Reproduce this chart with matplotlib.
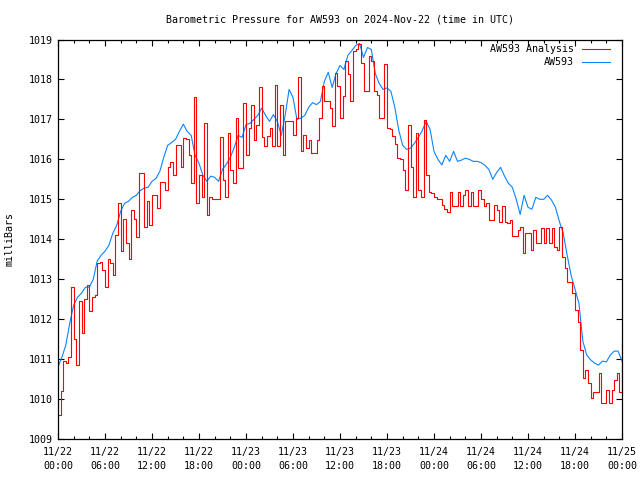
import numpy as np
import matplotlib
matplotlib.use("Agg")
import matplotlib.pyplot as plt
from matplotlib.lines import Line2D

# ---- data -------------------------------------------------------------
title = "Barometric Pressure for AW593 on 2024-Nov-22 (time in UTC)"
ylabel = "milliBars"
series_names = ["AW593 Analysis", "AW593"]

# AW593 (blue) every 30 minutes from 11/22 00:00
aw593 = [
    1010.8, 1011.05, 1011.35, 1011.9, 1012.35, 1012.55, 1012.65, 1012.8, 1012.8, 1013.0,
    1013.45, 1013.6, 1013.7, 1013.85, 1014.15, 1014.35, 1014.7, 1014.9, 1014.95, 1015.05,
    1015.1, 1015.22, 1015.28, 1015.3, 1015.45, 1015.52, 1015.7, 1016.05, 1016.35, 1016.42,
    1016.5, 1016.7, 1016.88, 1016.7, 1016.6, 1016.1, 1015.9, 1015.6, 1015.45, 1015.58,
    1015.55, 1015.45, 1015.75, 1015.88, 1016.05, 1016.3, 1016.6, 1016.55, 1016.87, 1016.9,
    1017.0, 1017.1, 1017.28, 1017.1, 1016.95, 1017.12, 1016.95, 1016.6, 1017.1, 1017.75,
    1017.55, 1017.0, 1017.03, 1017.1, 1017.3, 1017.42, 1017.37, 1017.45, 1017.95, 1018.18,
    1017.8, 1018.15, 1018.35, 1018.25, 1018.6, 1018.72, 1018.85, 1018.9, 1018.55, 1018.8,
    1018.75, 1018.15, 1017.9, 1017.75, 1017.79, 1017.7, 1017.3, 1016.73, 1016.35, 1016.25,
    1016.28, 1016.4, 1016.55, 1016.72, 1016.95, 1016.75, 1016.2, 1016.0, 1015.86, 1016.1,
    1015.95, 1016.2, 1015.95, 1015.98, 1016.03, 1016.0, 1015.95, 1015.95, 1015.92, 1015.85,
    1015.75, 1015.5, 1015.67, 1015.8, 1015.58, 1015.4, 1015.3, 1015.0, 1014.62, 1015.1,
    1014.8, 1014.75, 1015.05, 1015.0, 1015.0, 1015.1, 1014.98, 1014.8, 1014.45, 1014.15,
    1013.6, 1013.1, 1012.75, 1012.4, 1011.45, 1011.1, 1010.98, 1010.9, 1010.85, 1010.95,
    1010.93, 1011.1, 1011.2, 1011.2, 1010.95,
]

# AW593 Analysis (red) every 20 minutes from 11/22 00:00
aw593_analysis = [
    1009.6, 1010.2, 1010.95, 1010.9, 1011.05, 1012.8, 1011.5, 1010.85, 1012.45, 1011.65,
    1012.5, 1012.85, 1012.2, 1012.55, 1012.6, 1013.4, 1013.44, 1013.23, 1012.8, 1013.5,
    1013.4, 1013.1, 1014.1, 1014.9, 1013.7, 1014.5, 1013.9, 1013.5, 1014.73, 1014.5,
    1014.06, 1015.65, 1015.65, 1014.3, 1014.95, 1014.36, 1015.1, 1015.1, 1014.77, 1015.44,
    1015.44, 1015.23, 1015.8, 1015.94, 1015.6, 1016.36, 1016.36, 1015.8, 1016.53, 1016.5,
    1016.1, 1015.4, 1017.55, 1014.9, 1015.6, 1015.07, 1016.9, 1014.6, 1015.07, 1015.02,
    1015.02, 1015.02, 1016.57, 1015.48, 1015.07, 1016.65, 1015.73, 1015.4, 1017.03, 1015.78,
    1015.78, 1017.4, 1016.11, 1016.78, 1017.36, 1016.48, 1016.86, 1017.82, 1016.57, 1016.33,
    1016.58, 1016.78, 1016.33, 1017.87, 1016.33, 1017.35, 1016.1, 1016.95, 1016.95, 1016.95,
    1016.62, 1017.03, 1018.05, 1016.2, 1016.62, 1016.28, 1016.49, 1016.16, 1016.16, 1016.49,
    1017.03, 1017.83, 1017.47, 1017.47, 1017.28, 1016.83, 1018.17, 1017.84, 1017.04, 1017.59,
    1018.46, 1018.13, 1017.46, 1018.71, 1018.75, 1018.88, 1018.42, 1017.71, 1017.71, 1018.59,
    1018.46, 1017.71, 1017.6, 1017.04, 1017.04, 1018.38, 1016.79, 1016.77, 1016.58, 1016.38,
    1016.03, 1016.0, 1015.73, 1015.23, 1016.86, 1015.82, 1015.07, 1016.65, 1015.23, 1015.07,
    1016.98, 1015.61, 1015.19, 1015.15, 1015.07, 1015.02, 1015.02, 1014.85, 1014.75, 1014.68,
    1015.19, 1014.82, 1014.82, 1015.19, 1014.82, 1015.11, 1015.23, 1014.82, 1015.19, 1014.82,
    1014.82, 1015.23, 1015.02, 1014.82, 1014.9, 1014.48, 1014.48, 1014.86, 1014.73, 1014.44,
    1014.82, 1014.44, 1014.4, 1014.48, 1014.07, 1014.07, 1014.23, 1014.31, 1013.65, 1014.15,
    1014.15, 1013.73, 1014.23, 1013.9, 1013.9, 1014.27, 1013.9, 1014.27, 1013.9, 1014.27,
    1013.81, 1013.73, 1014.31, 1013.56, 1013.27, 1012.94, 1012.94, 1012.65, 1012.23, 1011.94,
    1011.23, 1010.52, 1010.73, 1010.39, 1010.02, 1010.18, 1010.18, 1010.64, 1009.89, 1009.89,
    1010.23, 1009.89, 1010.23, 1010.48, 1010.64, 1010.18, 1011.4,
]

xtick_labels = ["11/22\n00:00", "11/22\n06:00", "11/22\n12:00", "11/22\n18:00",
                "11/23\n00:00", "11/23\n06:00", "11/23\n12:00", "11/23\n18:00",
                "11/24\n00:00", "11/24\n06:00", "11/24\n12:00", "11/24\n18:00",
                "11/25\n00:00"]
ytick_values = [1009, 1010, 1011, 1012, 1013, 1014, 1015, 1016, 1017, 1018, 1019]

# ---- figure -------------------------------------------------------------
plt.rcParams['font.family'] = ['DejaVu Sans Mono']
FS = 7.2

fig = plt.figure(figsize=(6.4, 4.8), dpi=100)
ax = fig.add_axes([58 / 640, 41 / 480, 564 / 640, 399.5 / 480])

t_blue = np.arange(len(aw593)) * 0.5
t_red = np.arange(len(aw593_analysis)) * (20 / 60)

red = "#ff0000"
blue = "#0a84ff"
ax.plot(t_blue, aw593, color=blue, lw=0.8)
ax.plot(t_red, aw593_analysis, color=red, lw=0.8, drawstyle="steps-post")

ax.set_xlim(0, 72)
ax.set_ylim(1009, 1019)
ax.set_xticks(np.arange(0, 73, 6))
ax.set_xticks(np.arange(0, 73, 2), minor=True)
ax.set_xticklabels(xtick_labels, fontsize=FS, linespacing=1.4)
ax.set_yticks(ytick_values)
ax.set_yticklabels([str(v) for v in ytick_values], fontsize=FS)

ax.tick_params(which="both", direction="in", top=True, right=True, colors="black")
ax.tick_params(which="major", length=4.5, width=0.8)
ax.tick_params(which="minor", length=2.5, width=0.8)
ax.tick_params(axis="x", which="major", pad=6)
ax.tick_params(axis="y", which="major", pad=4)
for s in ax.spines.values():
    s.set_linewidth(0.9)

ax.set_title(title, fontsize=FS, pad=12)
ax.set_ylabel(ylabel, fontsize=FS)
ax.yaxis.set_label_coords(-0.077, 0.5)

# legend (gnuplot style, right-aligned text, sample line on the right)
ax.text(0.915, 0.9755, series_names[0], transform=ax.transAxes, ha="right", va="center", fontsize=FS)
ax.text(0.915, 0.943, series_names[1], transform=ax.transAxes, ha="right", va="center", fontsize=FS)
ax.add_line(Line2D([0.929, 0.979], [0.9755, 0.9755], transform=ax.transAxes, color=red, lw=0.8))
ax.add_line(Line2D([0.929, 0.979], [0.943, 0.943], transform=ax.transAxes, color=blue, lw=0.8))

fig.savefig("out.png", dpi=100)
